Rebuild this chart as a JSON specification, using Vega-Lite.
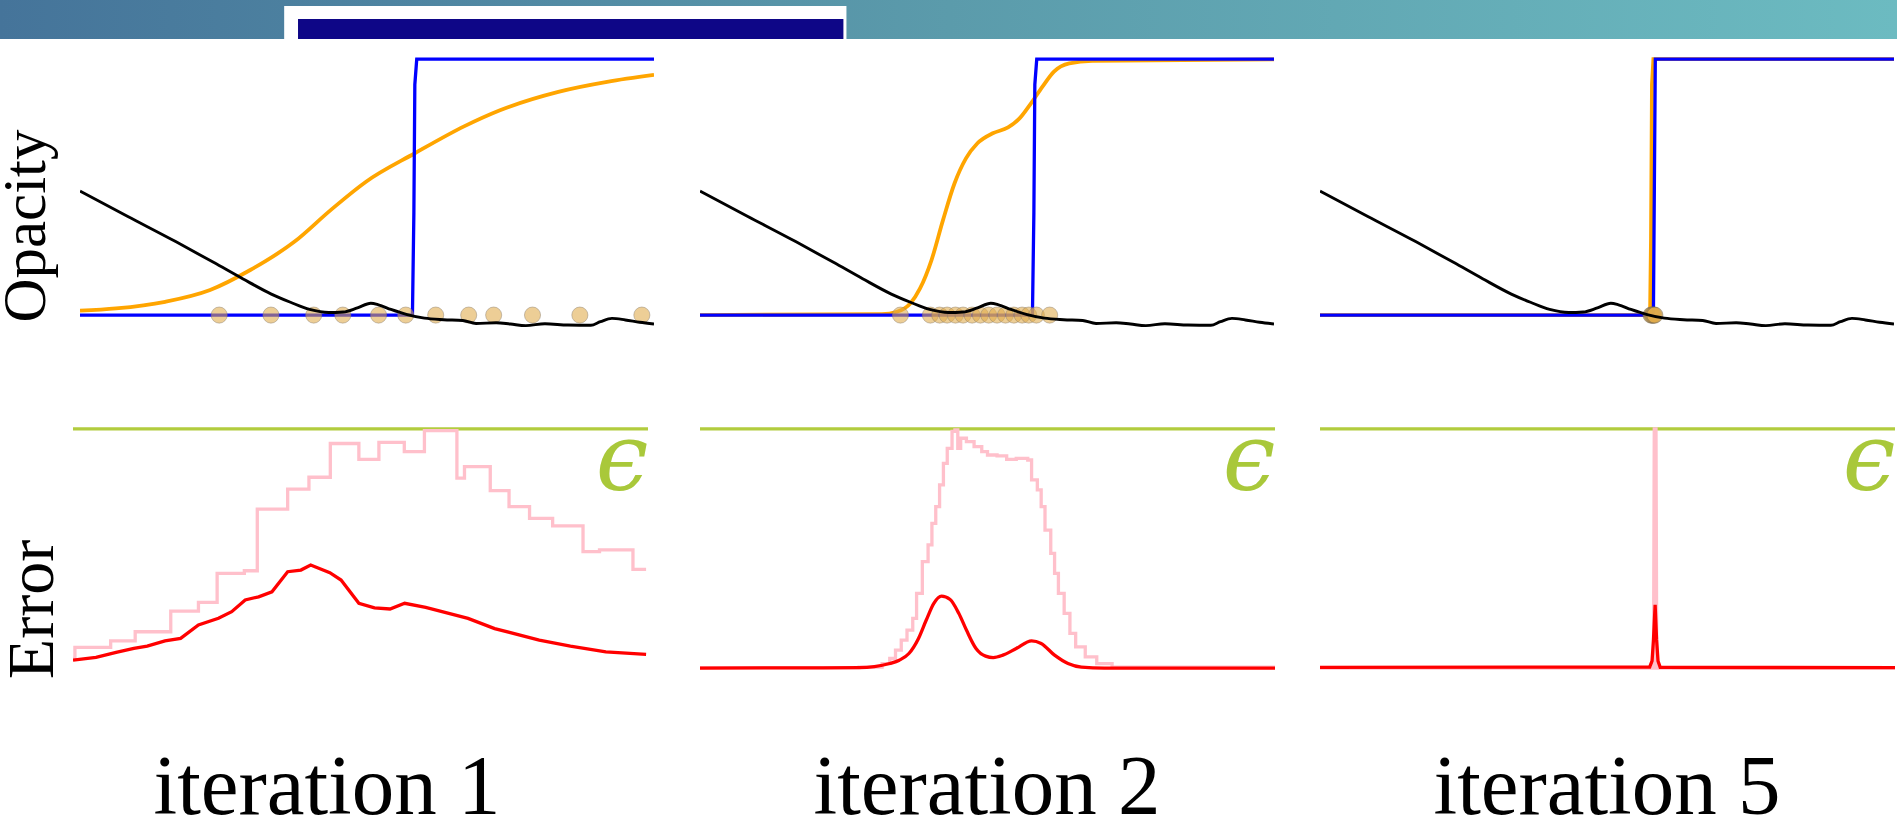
{
  "$schema": "https://vega.github.io/schema/vega-lite/v6.json",
  "padding": 0,
  "background": "white",
  "config": {
    "view": {"stroke": null},
    "axis": {"labels": false, "ticks": false, "domain": false, "gridColor": "#eaeef5", "gridWidth": 1}
  },
  "datasets": {
    "banner": [
      {"part": "band", "x1": 0, "x2": 100, "y1": 0, "y2": 100},
      {"part": "box", "x1": 14.98, "x2": 44.62, "y1": 0, "y2": 84.6},
      {"part": "bar", "x1": 15.71, "x2": 44.46, "y1": 0, "y2": 51.3}
    ],
    "rowLabels": [
      {"row": "top", "label": "Opacity"},
      {"row": "bottom", "label": "Error"}
    ],
    "iterLabels": [
      {"panel": 1, "label": "iteration 1"},
      {"panel": 2, "label": "iteration 2"},
      {"panel": 3, "label": "iteration 5"}
    ],
    "density": [
      {"x": 0, "y": 0.484}, {"x": 0.5, "y": 0.385}, {"x": 1.0, "y": 0.287}, {"x": 1.4, "y": 0.205},
      {"x": 1.7, "y": 0.142}, {"x": 2.0, "y": 0.082}, {"x": 2.2, "y": 0.05}, {"x": 2.4, "y": 0.022},
      {"x": 2.6, "y": 0.01}, {"x": 2.75, "y": 0.012}, {"x": 2.9, "y": 0.028}, {"x": 3.04, "y": 0.046},
      {"x": 3.12, "y": 0.04}, {"x": 3.25, "y": 0.022}, {"x": 3.42, "y": 0.002}, {"x": 3.6, "y": -0.012},
      {"x": 3.8, "y": -0.018}, {"x": 4.0, "y": -0.021}, {"x": 4.14, "y": -0.033}, {"x": 4.35, "y": -0.03},
      {"x": 4.5, "y": -0.035}, {"x": 4.66, "y": -0.041}, {"x": 4.86, "y": -0.034}, {"x": 5.1, "y": -0.039},
      {"x": 5.34, "y": -0.04}, {"x": 5.44, "y": -0.026}, {"x": 5.56, "y": -0.013}, {"x": 5.7, "y": -0.019},
      {"x": 5.85, "y": -0.028}, {"x": 6.0, "y": -0.035}
    ],
    "opacityLines": [
      {"panel": 1, "series": "orange", "x": 0, "y": 0.017}, {"panel": 1, "series": "orange", "x": 0.376, "y": 0.026},
      {"panel": 1, "series": "orange", "x": 0.89, "y": 0.052}, {"panel": 1, "series": "orange", "x": 1.36, "y": 0.098},
      {"panel": 1, "series": "orange", "x": 1.78, "y": 0.176}, {"panel": 1, "series": "orange", "x": 2.24, "y": 0.286},
      {"panel": 1, "series": "orange", "x": 2.62, "y": 0.41}, {"panel": 1, "series": "orange", "x": 2.99, "y": 0.521},
      {"panel": 1, "series": "orange", "x": 3.5, "y": 0.632}, {"panel": 1, "series": "orange", "x": 4.02, "y": 0.738},
      {"panel": 1, "series": "orange", "x": 4.39, "y": 0.8}, {"panel": 1, "series": "orange", "x": 5.0, "y": 0.872},
      {"panel": 1, "series": "orange", "x": 5.51, "y": 0.911}, {"panel": 1, "series": "orange", "x": 6.0, "y": 0.938},
      {"panel": 1, "series": "blue", "x": 0, "y": 0}, {"panel": 1, "series": "blue", "x": 3.475, "y": 0},
      {"panel": 1, "series": "blue", "x": 3.49, "y": 0.4}, {"panel": 1, "series": "blue", "x": 3.5, "y": 0.9},
      {"panel": 1, "series": "blue", "x": 3.52, "y": 1}, {"panel": 1, "series": "blue", "x": 6, "y": 1},
      {"panel": 2, "series": "orange", "x": 0, "y": 0}, {"panel": 2, "series": "orange", "x": 1.9, "y": 0.004},
      {"panel": 2, "series": "orange", "x": 2.06, "y": 0.013}, {"panel": 2, "series": "orange", "x": 2.2, "y": 0.046},
      {"panel": 2, "series": "orange", "x": 2.3, "y": 0.104}, {"panel": 2, "series": "orange", "x": 2.42, "y": 0.215},
      {"panel": 2, "series": "orange", "x": 2.54, "y": 0.371}, {"panel": 2, "series": "orange", "x": 2.66, "y": 0.514},
      {"panel": 2, "series": "orange", "x": 2.78, "y": 0.612}, {"panel": 2, "series": "orange", "x": 2.9, "y": 0.671},
      {"panel": 2, "series": "orange", "x": 3.06, "y": 0.71}, {"panel": 2, "series": "orange", "x": 3.22, "y": 0.733},
      {"panel": 2, "series": "orange", "x": 3.34, "y": 0.768}, {"panel": 2, "series": "orange", "x": 3.46, "y": 0.827},
      {"panel": 2, "series": "orange", "x": 3.58, "y": 0.892}, {"panel": 2, "series": "orange", "x": 3.7, "y": 0.951},
      {"panel": 2, "series": "orange", "x": 3.86, "y": 0.983}, {"panel": 2, "series": "orange", "x": 4.1, "y": 0.993},
      {"panel": 2, "series": "orange", "x": 6.0, "y": 0.999},
      {"panel": 2, "series": "blue", "x": 0, "y": 0}, {"panel": 2, "series": "blue", "x": 3.475, "y": 0},
      {"panel": 2, "series": "blue", "x": 3.49, "y": 0.4}, {"panel": 2, "series": "blue", "x": 3.5, "y": 0.9},
      {"panel": 2, "series": "blue", "x": 3.52, "y": 1}, {"panel": 2, "series": "blue", "x": 6, "y": 1},
      {"panel": 3, "series": "orange", "x": 0, "y": 0}, {"panel": 3, "series": "orange", "x": 3.45, "y": 0},
      {"panel": 3, "series": "orange", "x": 3.46, "y": 0.3}, {"panel": 3, "series": "orange", "x": 3.47, "y": 0.9},
      {"panel": 3, "series": "orange", "x": 3.485, "y": 1}, {"panel": 3, "series": "orange", "x": 6, "y": 1},
      {"panel": 3, "series": "blue", "x": 0, "y": 0}, {"panel": 3, "series": "blue", "x": 3.485, "y": 0},
      {"panel": 3, "series": "blue", "x": 3.495, "y": 0.5}, {"panel": 3, "series": "blue", "x": 3.505, "y": 1},
      {"panel": 3, "series": "blue", "x": 6, "y": 1}
    ],
    "samples": [
      {"panel": 1, "x": 1.455}, {"panel": 1, "x": 1.996}, {"panel": 1, "x": 2.443}, {"panel": 1, "x": 2.747},
      {"panel": 1, "x": 3.121}, {"panel": 1, "x": 3.405}, {"panel": 1, "x": 3.718}, {"panel": 1, "x": 4.063},
      {"panel": 1, "x": 4.324}, {"panel": 1, "x": 4.73}, {"panel": 1, "x": 5.225}, {"panel": 1, "x": 5.873},
      {"panel": 2, "x": 2.095}, {"panel": 2, "x": 2.408}, {"panel": 2, "x": 2.505}, {"panel": 2, "x": 2.583},
      {"panel": 2, "x": 2.67}, {"panel": 2, "x": 2.75}, {"panel": 2, "x": 2.844}, {"panel": 2, "x": 2.931},
      {"panel": 2, "x": 3.018}, {"panel": 2, "x": 3.105}, {"panel": 2, "x": 3.193}, {"panel": 2, "x": 3.28},
      {"panel": 2, "x": 3.367}, {"panel": 2, "x": 3.436}, {"panel": 2, "x": 3.516}, {"panel": 2, "x": 3.655},
      {"panel": 3, "x": 3.46}, {"panel": 3, "x": 3.47}, {"panel": 3, "x": 3.48}, {"panel": 3, "x": 3.49}, {"panel": 3, "x": 3.5}
    ],
    "errorLines": [
      {"panel": 1, "series": "pink", "x": 0, "y": 0.04}, {"panel": 1, "series": "pink", "x": 0.02, "y": 0.087},
      {"panel": 1, "series": "pink", "x": 0.393, "y": 0.114}, {"panel": 1, "series": "pink", "x": 0.649, "y": 0.152},
      {"panel": 1, "series": "pink", "x": 1.02, "y": 0.238}, {"panel": 1, "series": "pink", "x": 1.309, "y": 0.275},
      {"panel": 1, "series": "pink", "x": 1.504, "y": 0.396}, {"panel": 1, "series": "pink", "x": 1.788, "y": 0.407},
      {"panel": 1, "series": "pink", "x": 1.923, "y": 0.665}, {"panel": 1, "series": "pink", "x": 2.24, "y": 0.748},
      {"panel": 1, "series": "pink", "x": 2.462, "y": 0.798}, {"panel": 1, "series": "pink", "x": 2.685, "y": 0.939},
      {"panel": 1, "series": "pink", "x": 2.983, "y": 0.873}, {"panel": 1, "series": "pink", "x": 3.192, "y": 0.944},
      {"panel": 1, "series": "pink", "x": 3.457, "y": 0.905}, {"panel": 1, "series": "pink", "x": 3.667, "y": 0.993},
      {"panel": 1, "series": "pink", "x": 4.006, "y": 0.794}, {"panel": 1, "series": "pink", "x": 4.085, "y": 0.842},
      {"panel": 1, "series": "pink", "x": 4.354, "y": 0.742}, {"panel": 1, "series": "pink", "x": 4.55, "y": 0.675},
      {"panel": 1, "series": "pink", "x": 4.764, "y": 0.626}, {"panel": 1, "series": "pink", "x": 5.005, "y": 0.595},
      {"panel": 1, "series": "pink", "x": 5.322, "y": 0.487}, {"panel": 1, "series": "pink", "x": 5.494, "y": 0.494},
      {"panel": 1, "series": "pink", "x": 5.843, "y": 0.413}, {"panel": 1, "series": "pink", "x": 5.98, "y": 0.413},
      {"panel": 1, "series": "red", "x": 0, "y": 0.033}, {"panel": 1, "series": "red", "x": 0.24, "y": 0.045},
      {"panel": 1, "series": "red", "x": 0.45, "y": 0.066}, {"panel": 1, "series": "red", "x": 0.635, "y": 0.082},
      {"panel": 1, "series": "red", "x": 0.774, "y": 0.092}, {"panel": 1, "series": "red", "x": 0.96, "y": 0.114},
      {"panel": 1, "series": "red", "x": 1.123, "y": 0.124}, {"panel": 1, "series": "red", "x": 1.309, "y": 0.18},
      {"panel": 1, "series": "red", "x": 1.518, "y": 0.208}, {"panel": 1, "series": "red", "x": 1.656, "y": 0.236},
      {"panel": 1, "series": "red", "x": 1.797, "y": 0.285}, {"panel": 1, "series": "red", "x": 1.937, "y": 0.298},
      {"panel": 1, "series": "red", "x": 2.076, "y": 0.319}, {"panel": 1, "series": "red", "x": 2.24, "y": 0.403},
      {"panel": 1, "series": "red", "x": 2.378, "y": 0.41}, {"panel": 1, "series": "red", "x": 2.48, "y": 0.431},
      {"panel": 1, "series": "red", "x": 2.68, "y": 0.399}, {"panel": 1, "series": "red", "x": 2.797, "y": 0.368},
      {"panel": 1, "series": "red", "x": 2.983, "y": 0.271}, {"panel": 1, "series": "red", "x": 3.146, "y": 0.252},
      {"panel": 1, "series": "red", "x": 3.308, "y": 0.247}, {"panel": 1, "series": "red", "x": 3.461, "y": 0.271},
      {"panel": 1, "series": "red", "x": 3.68, "y": 0.254}, {"panel": 1, "series": "red", "x": 4.122, "y": 0.208},
      {"panel": 1, "series": "red", "x": 4.4, "y": 0.165}, {"panel": 1, "series": "red", "x": 4.865, "y": 0.117},
      {"panel": 1, "series": "red", "x": 5.19, "y": 0.092}, {"panel": 1, "series": "red", "x": 5.56, "y": 0.068},
      {"panel": 1, "series": "red", "x": 5.98, "y": 0.057},
      {"panel": 2, "series": "pink", "x": 0, "y": 0.002}, {"panel": 2, "series": "pink", "x": 1.66, "y": 0.004},
      {"panel": 2, "series": "pink", "x": 1.9, "y": 0.019}, {"panel": 2, "series": "pink", "x": 1.98, "y": 0.04},
      {"panel": 2, "series": "pink", "x": 2.04, "y": 0.075}, {"panel": 2, "series": "pink", "x": 2.1, "y": 0.117},
      {"panel": 2, "series": "pink", "x": 2.16, "y": 0.159}, {"panel": 2, "series": "pink", "x": 2.22, "y": 0.208},
      {"panel": 2, "series": "pink", "x": 2.26, "y": 0.312}, {"panel": 2, "series": "pink", "x": 2.32, "y": 0.445},
      {"panel": 2, "series": "pink", "x": 2.38, "y": 0.515}, {"panel": 2, "series": "pink", "x": 2.42, "y": 0.605},
      {"panel": 2, "series": "pink", "x": 2.46, "y": 0.675}, {"panel": 2, "series": "pink", "x": 2.5, "y": 0.766},
      {"panel": 2, "series": "pink", "x": 2.54, "y": 0.856}, {"panel": 2, "series": "pink", "x": 2.58, "y": 0.919},
      {"panel": 2, "series": "pink", "x": 2.63, "y": 0.99}, {"panel": 2, "series": "pink", "x": 2.66, "y": 0.996},
      {"panel": 2, "series": "pink", "x": 2.69, "y": 0.919}, {"panel": 2, "series": "pink", "x": 2.72, "y": 0.961},
      {"panel": 2, "series": "pink", "x": 2.78, "y": 0.947}, {"panel": 2, "series": "pink", "x": 2.86, "y": 0.926},
      {"panel": 2, "series": "pink", "x": 2.94, "y": 0.905}, {"panel": 2, "series": "pink", "x": 3.0, "y": 0.891},
      {"panel": 2, "series": "pink", "x": 3.1, "y": 0.887}, {"panel": 2, "series": "pink", "x": 3.2, "y": 0.873},
      {"panel": 2, "series": "pink", "x": 3.3, "y": 0.877}, {"panel": 2, "series": "pink", "x": 3.42, "y": 0.87},
      {"panel": 2, "series": "pink", "x": 3.46, "y": 0.787}, {"panel": 2, "series": "pink", "x": 3.52, "y": 0.745},
      {"panel": 2, "series": "pink", "x": 3.56, "y": 0.675}, {"panel": 2, "series": "pink", "x": 3.6, "y": 0.577},
      {"panel": 2, "series": "pink", "x": 3.66, "y": 0.48}, {"panel": 2, "series": "pink", "x": 3.7, "y": 0.396},
      {"panel": 2, "series": "pink", "x": 3.74, "y": 0.312}, {"panel": 2, "series": "pink", "x": 3.8, "y": 0.229},
      {"panel": 2, "series": "pink", "x": 3.86, "y": 0.145}, {"panel": 2, "series": "pink", "x": 3.92, "y": 0.089},
      {"panel": 2, "series": "pink", "x": 4.02, "y": 0.047}, {"panel": 2, "series": "pink", "x": 4.14, "y": 0.019},
      {"panel": 2, "series": "pink", "x": 4.3, "y": 0.004}, {"panel": 2, "series": "pink", "x": 6.0, "y": 0.002},
      {"panel": 2, "series": "red", "x": 0, "y": 0.0}, {"panel": 2, "series": "red", "x": 1.66, "y": 0.002},
      {"panel": 2, "series": "red", "x": 1.82, "y": 0.006}, {"panel": 2, "series": "red", "x": 1.98, "y": 0.019},
      {"panel": 2, "series": "red", "x": 2.08, "y": 0.033}, {"panel": 2, "series": "red", "x": 2.18, "y": 0.061},
      {"panel": 2, "series": "red", "x": 2.28, "y": 0.124}, {"panel": 2, "series": "red", "x": 2.36, "y": 0.2},
      {"panel": 2, "series": "red", "x": 2.44, "y": 0.271}, {"panel": 2, "series": "red", "x": 2.52, "y": 0.301},
      {"panel": 2, "series": "red", "x": 2.61, "y": 0.287}, {"panel": 2, "series": "red", "x": 2.7, "y": 0.229},
      {"panel": 2, "series": "red", "x": 2.78, "y": 0.159}, {"panel": 2, "series": "red", "x": 2.88, "y": 0.082},
      {"panel": 2, "series": "red", "x": 2.98, "y": 0.05}, {"panel": 2, "series": "red", "x": 3.06, "y": 0.044},
      {"panel": 2, "series": "red", "x": 3.16, "y": 0.054}, {"panel": 2, "series": "red", "x": 3.3, "y": 0.082},
      {"panel": 2, "series": "red", "x": 3.46, "y": 0.114}, {"panel": 2, "series": "red", "x": 3.56, "y": 0.103},
      {"panel": 2, "series": "red", "x": 3.7, "y": 0.054}, {"panel": 2, "series": "red", "x": 3.84, "y": 0.019},
      {"panel": 2, "series": "red", "x": 3.98, "y": 0.004}, {"panel": 2, "series": "red", "x": 4.22, "y": 0.0},
      {"panel": 2, "series": "red", "x": 6.0, "y": 0.0},
      {"panel": 3, "series": "pink", "x": 0, "y": 0}, {"panel": 3, "series": "pink", "x": 3.48, "y": 0},
      {"panel": 3, "series": "pink", "x": 3.488, "y": 1.0}, {"panel": 3, "series": "pink", "x": 3.506, "y": 1.0},
      {"panel": 3, "series": "pink", "x": 3.514, "y": 0}, {"panel": 3, "series": "pink", "x": 6, "y": 0},
      {"panel": 3, "series": "red", "x": 0, "y": 0.003}, {"panel": 3, "series": "red", "x": 3.44, "y": 0.004},
      {"panel": 3, "series": "red", "x": 3.465, "y": 0.03}, {"panel": 3, "series": "red", "x": 3.48, "y": 0.12},
      {"panel": 3, "series": "red", "x": 3.497, "y": 0.264}, {"panel": 3, "series": "red", "x": 3.512, "y": 0.12},
      {"panel": 3, "series": "red", "x": 3.527, "y": 0.03}, {"panel": 3, "series": "red", "x": 3.55, "y": 0.003},
      {"panel": 3, "series": "red", "x": 6, "y": 0.002}
    ],
    "threshold": [{"label": "ϵ", "value": 1, "x": 5.73, "y": 0.745}]
  },
  "spacing": 8,
  "vconcat": [
    {
      "width": 1897,
      "height": 39,
      "data": {"name": "banner"},
      "layer": [
        {
          "transform": [{"filter": "datum.part == 'band'"}],
          "mark": {"type": "rect", "fill": {"gradient": "linear", "x1": 0, "y1": 0, "x2": 1, "y2": 0, "stops": [{"offset": 0, "color": "#45749a"}, {"offset": 0.5, "color": "#5b9bab"}, {"offset": 1, "color": "#6cbbc1"}]}},
          "encoding": {
            "x": {"field": "x1", "type": "quantitative", "scale": {"domain": [0, 100], "nice": false, "zero": false}, "axis": null},
            "x2": {"field": "x2"},
            "y": {"field": "y1", "type": "quantitative", "scale": {"domain": [0, 100], "nice": false, "zero": false}, "axis": null},
            "y2": {"field": "y2"}
          }
        },
        {
          "transform": [{"filter": "datum.part == 'box'"}],
          "mark": {"type": "rect", "fill": "#ffffff"},
          "encoding": {
            "x": {"field": "x1", "type": "quantitative", "axis": null},
            "x2": {"field": "x2"},
            "y": {"field": "y1", "type": "quantitative", "axis": null},
            "y2": {"field": "y2"}
          }
        },
        {
          "transform": [{"filter": "datum.part == 'bar'"}],
          "mark": {"type": "rect", "fill": "#0e0687"},
          "encoding": {
            "x": {"field": "x1", "type": "quantitative", "axis": null},
            "x2": {"field": "x2"},
            "y": {"field": "y1", "type": "quantitative", "axis": null},
            "y2": {"field": "y2"}
          }
        }
      ]
    },
    {
      "spacing": 72,
      "vconcat": [
        {
          "spacing": 20,
          "hconcat": [
            {
              "width": 60, "height": 286,
              "data": {"name": "rowLabels"},
              "transform": [{"filter": "datum.row == 'top'"}],
              "mark": {"type": "text", "angle": 270, "font": "Liberation Serif", "fontSize": 61, "align": "center", "baseline": "alphabetic", "dx": -36, "dy": 15, "color": "#000000", "clip": true},
              "encoding": {"text": {"field": "label"}}
            },
            {
              "spacing": 46,
              "hconcat": [
                {
                  "width": 574, "height": 286,
                  "layer": [
                    {"data": {"name": "opacityLines"}, "transform": [{"filter": "datum.panel == 1 && datum.series == 'orange'"}],
                     "mark": {"type": "line", "color": "#ffa500", "strokeWidth": 3.8, "interpolate": "monotone", "clip": true},
                     "encoding": {"x": {"field": "x", "type": "quantitative", "scale": {"domain": [0, 6], "nice": false, "zero": false}, "axis": {"title": null, "values": [1, 2, 3, 4, 5]}},
                                  "y": {"field": "y", "type": "quantitative", "scale": {"domain": [-0.07, 1.047], "nice": false, "zero": false}, "axis": {"title": null, "values": [0, 0.25, 0.5, 0.75, 1]}}}},
                    {"data": {"name": "opacityLines"}, "transform": [{"filter": "datum.panel == 1 && datum.series == 'blue'"}],
                     "mark": {"type": "line", "color": "#0000ff", "strokeWidth": 3.3, "clip": true},
                     "encoding": {"x": {"field": "x", "type": "quantitative", "axis": null}, "y": {"field": "y", "type": "quantitative", "axis": null}}},
                    {"data": {"name": "samples"}, "transform": [{"filter": "datum.panel == 1"}],
                     "mark": {"type": "circle", "size": 260, "fill": "#e0ab4a", "fillOpacity": 0.58, "stroke": "#8a7d6a", "strokeOpacity": 0.45, "strokeWidth": 1, "clip": true},
                     "encoding": {"x": {"field": "x", "type": "quantitative", "axis": null}, "y": {"datum": 0, "type": "quantitative", "axis": null}}},
                    {"data": {"name": "density"},
                     "mark": {"type": "line", "color": "#000000", "strokeWidth": 2.9, "interpolate": "monotone", "clip": true},
                     "encoding": {"x": {"field": "x", "type": "quantitative", "axis": null}, "y": {"field": "y", "type": "quantitative", "axis": null}}}
                  ]
                },
                {
                  "width": 574, "height": 286,
                  "layer": [
                    {"data": {"name": "opacityLines"}, "transform": [{"filter": "datum.panel == 2 && datum.series == 'orange'"}],
                     "mark": {"type": "line", "color": "#ffa500", "strokeWidth": 3.8, "interpolate": "monotone", "clip": true},
                     "encoding": {"x": {"field": "x", "type": "quantitative", "scale": {"domain": [0, 6], "nice": false, "zero": false}, "axis": {"title": null, "values": [1, 2, 3, 4, 5]}},
                                  "y": {"field": "y", "type": "quantitative", "scale": {"domain": [-0.07, 1.047], "nice": false, "zero": false}, "axis": {"title": null, "values": [0, 0.25, 0.5, 0.75, 1]}}}},
                    {"data": {"name": "opacityLines"}, "transform": [{"filter": "datum.panel == 2 && datum.series == 'blue'"}],
                     "mark": {"type": "line", "color": "#0000ff", "strokeWidth": 3.3, "clip": true},
                     "encoding": {"x": {"field": "x", "type": "quantitative", "axis": null}, "y": {"field": "y", "type": "quantitative", "axis": null}}},
                    {"data": {"name": "samples"}, "transform": [{"filter": "datum.panel == 2"}],
                     "mark": {"type": "circle", "size": 260, "fill": "#e0ab4a", "fillOpacity": 0.58, "stroke": "#8a7d6a", "strokeOpacity": 0.45, "strokeWidth": 1, "clip": true},
                     "encoding": {"x": {"field": "x", "type": "quantitative", "axis": null}, "y": {"datum": 0, "type": "quantitative", "axis": null}}},
                    {"data": {"name": "density"},
                     "mark": {"type": "line", "color": "#000000", "strokeWidth": 2.9, "interpolate": "monotone", "clip": true},
                     "encoding": {"x": {"field": "x", "type": "quantitative", "axis": null}, "y": {"field": "y", "type": "quantitative", "axis": null}}}
                  ]
                },
                {
                  "width": 574, "height": 286,
                  "layer": [
                    {"data": {"name": "opacityLines"}, "transform": [{"filter": "datum.panel == 3 && datum.series == 'orange'"}],
                     "mark": {"type": "line", "color": "#ffa500", "strokeWidth": 3.8, "clip": true},
                     "encoding": {"x": {"field": "x", "type": "quantitative", "scale": {"domain": [0, 6], "nice": false, "zero": false}, "axis": {"title": null, "values": [1, 2, 3, 4, 5]}},
                                  "y": {"field": "y", "type": "quantitative", "scale": {"domain": [-0.07, 1.047], "nice": false, "zero": false}, "axis": {"title": null, "values": [0, 0.25, 0.5, 0.75, 1]}}}},
                    {"data": {"name": "opacityLines"}, "transform": [{"filter": "datum.panel == 3 && datum.series == 'blue'"}],
                     "mark": {"type": "line", "color": "#0000ff", "strokeWidth": 3.3, "clip": true},
                     "encoding": {"x": {"field": "x", "type": "quantitative", "axis": null}, "y": {"field": "y", "type": "quantitative", "axis": null}}},
                    {"data": {"name": "samples"}, "transform": [{"filter": "datum.panel == 3"}],
                     "mark": {"type": "circle", "size": 260, "fill": "#e0ab4a", "fillOpacity": 0.58, "stroke": "#6f6350", "strokeOpacity": 0.5, "strokeWidth": 1, "clip": true},
                     "encoding": {"x": {"field": "x", "type": "quantitative", "axis": null}, "y": {"datum": 0, "type": "quantitative", "axis": null}}},
                    {"data": {"name": "density"},
                     "mark": {"type": "line", "color": "#000000", "strokeWidth": 2.9, "interpolate": "monotone", "clip": true},
                     "encoding": {"x": {"field": "x", "type": "quantitative", "axis": null}, "y": {"field": "y", "type": "quantitative", "axis": null}}}
                  ]
                }
              ]
            }
          ]
        },
        {
          "spacing": 10,
          "vconcat": [
            {
              "spacing": 52,
              "hconcat": [
                {
                  "spacing": 13,
                  "hconcat": [
                    {
                      "width": 60, "height": 287,
                      "data": {"name": "rowLabels"},
                      "transform": [{"filter": "datum.row == 'bottom'"}],
                      "mark": {"type": "text", "angle": 270, "font": "Liberation Serif", "fontSize": 66, "align": "center", "baseline": "alphabetic", "dx": -61, "dy": 23, "color": "#000000", "clip": true},
                      "encoding": {"text": {"field": "label"}}
                    },
                    {
                      "width": 575, "height": 287,
                      "layer": [
                        {"data": {"name": "threshold"},
                         "mark": {"type": "rule", "color": "#b2cc3e", "strokeWidth": 3.3, "clip": true},
                         "encoding": {"y": {"field": "value", "type": "quantitative", "scale": {"domain": [-0.1, 1.1], "nice": false, "zero": false}, "axis": null}}},
                        {"data": {"name": "errorLines"}, "transform": [{"filter": "datum.panel == 1 && datum.series == 'pink'"}],
                         "mark": {"type": "line", "color": "#ffc0cb", "strokeWidth": 3.3, "interpolate": "step-after", "clip": true},
                         "encoding": {"x": {"field": "x", "type": "quantitative", "scale": {"domain": [0, 6], "nice": false, "zero": false}, "axis": {"title": null, "values": [1, 2, 3, 4, 5]}},
                                      "y": {"field": "y", "type": "quantitative", "axis": {"title": null, "values": [0, 0.25, 0.5, 0.75, 1]}}}},
                        {"data": {"name": "errorLines"}, "transform": [{"filter": "datum.panel == 1 && datum.series == 'red'"}],
                         "mark": {"type": "line", "color": "#ff0000", "strokeWidth": 3.3, "clip": true},
                         "encoding": {"x": {"field": "x", "type": "quantitative", "axis": null}, "y": {"field": "y", "type": "quantitative", "axis": null}}},
                        {"data": {"name": "threshold"},
                         "mark": {"type": "text", "font": "DejaVu Serif", "fontStyle": "italic", "fontSize": 94, "color": "#a9c83a", "align": "center", "baseline": "alphabetic", "clip": true},
                         "encoding": {"x": {"field": "x", "type": "quantitative", "axis": null}, "y": {"field": "y", "type": "quantitative", "axis": null}, "text": {"field": "label"}}}
                      ]
                    }
                  ]
                },
                {
                  "spacing": 45,
                  "hconcat": [
                    {
                      "width": 575, "height": 287,
                      "layer": [
                        {"data": {"name": "threshold"},
                         "mark": {"type": "rule", "color": "#b2cc3e", "strokeWidth": 3.3, "clip": true},
                         "encoding": {"y": {"field": "value", "type": "quantitative", "scale": {"domain": [-0.1, 1.1], "nice": false, "zero": false}, "axis": null}}},
                        {"data": {"name": "errorLines"}, "transform": [{"filter": "datum.panel == 2 && datum.series == 'pink'"}],
                         "mark": {"type": "line", "color": "#ffc0cb", "strokeWidth": 3.3, "interpolate": "step-after", "clip": true},
                         "encoding": {"x": {"field": "x", "type": "quantitative", "scale": {"domain": [0, 6], "nice": false, "zero": false}, "axis": {"title": null, "values": [1, 2, 3, 4, 5]}},
                                      "y": {"field": "y", "type": "quantitative", "axis": {"title": null, "values": [0, 0.25, 0.5, 0.75, 1]}}}},
                        {"data": {"name": "errorLines"}, "transform": [{"filter": "datum.panel == 2 && datum.series == 'red'"}],
                         "mark": {"type": "line", "color": "#ff0000", "strokeWidth": 3.3, "interpolate": "monotone", "clip": true},
                         "encoding": {"x": {"field": "x", "type": "quantitative", "axis": null}, "y": {"field": "y", "type": "quantitative", "axis": null}}},
                        {"data": {"name": "threshold"},
                         "mark": {"type": "text", "font": "DejaVu Serif", "fontStyle": "italic", "fontSize": 94, "color": "#a9c83a", "align": "center", "baseline": "alphabetic", "clip": true},
                         "encoding": {"x": {"field": "x", "type": "quantitative", "axis": null}, "y": {"field": "y", "type": "quantitative", "axis": null}, "text": {"field": "label"}}}
                      ]
                    },
                    {
                      "width": 575, "height": 287,
                      "layer": [
                        {"data": {"name": "threshold"},
                         "mark": {"type": "rule", "color": "#b2cc3e", "strokeWidth": 3.3, "clip": true},
                         "encoding": {"y": {"field": "value", "type": "quantitative", "scale": {"domain": [-0.1, 1.1], "nice": false, "zero": false}, "axis": null}}},
                        {"data": {"name": "errorLines"}, "transform": [{"filter": "datum.panel == 3 && datum.series == 'pink'"}],
                         "mark": {"type": "line", "color": "#ffc0cb", "strokeWidth": 3.3, "clip": true},
                         "encoding": {"x": {"field": "x", "type": "quantitative", "scale": {"domain": [0, 6], "nice": false, "zero": false}, "axis": {"title": null, "values": [1, 2, 3, 4, 5]}},
                                      "y": {"field": "y", "type": "quantitative", "axis": {"title": null, "values": [0, 0.25, 0.5, 0.75, 1]}}}},
                        {"data": {"name": "errorLines"}, "transform": [{"filter": "datum.panel == 3 && datum.series == 'red'"}],
                         "mark": {"type": "line", "color": "#ff0000", "strokeWidth": 3.3, "clip": true},
                         "encoding": {"x": {"field": "x", "type": "quantitative", "axis": null}, "y": {"field": "y", "type": "quantitative", "axis": null}}},
                        {"data": {"name": "threshold"},
                         "mark": {"type": "text", "font": "DejaVu Serif", "fontStyle": "italic", "fontSize": 94, "color": "#a9c83a", "align": "center", "baseline": "alphabetic", "clip": true},
                         "encoding": {"x": {"field": "x", "type": "quantitative", "axis": null}, "y": {"field": "y", "type": "quantitative", "axis": null}, "text": {"field": "label"}}}
                      ]
                    }
                  ]
                }
              ]
            },
            {
              "spacing": 46,
              "hconcat": [
                {
                  "width": 654, "height": 120,
                  "data": {"name": "iterLabels"},
                  "transform": [{"filter": "datum.panel == 1"}],
                  "mark": {"type": "text", "font": "Liberation Serif", "fontSize": 85, "align": "center", "baseline": "alphabetic", "dy": 52, "color": "#000000"},
                  "encoding": {"text": {"field": "label"}}
                },
                {
                  "width": 574, "height": 120,
                  "data": {"name": "iterLabels"},
                  "transform": [{"filter": "datum.panel == 2"}],
                  "mark": {"type": "text", "font": "Liberation Serif", "fontSize": 85, "align": "center", "baseline": "alphabetic", "dy": 52, "color": "#000000"},
                  "encoding": {"text": {"field": "label"}}
                },
                {
                  "width": 574, "height": 120,
                  "data": {"name": "iterLabels"},
                  "transform": [{"filter": "datum.panel == 3"}],
                  "mark": {"type": "text", "font": "Liberation Serif", "fontSize": 85, "align": "center", "baseline": "alphabetic", "dy": 52, "color": "#000000"},
                  "encoding": {"text": {"field": "label"}}
                }
              ]
            }
          ]
        }
      ]
    }
  ]
}
